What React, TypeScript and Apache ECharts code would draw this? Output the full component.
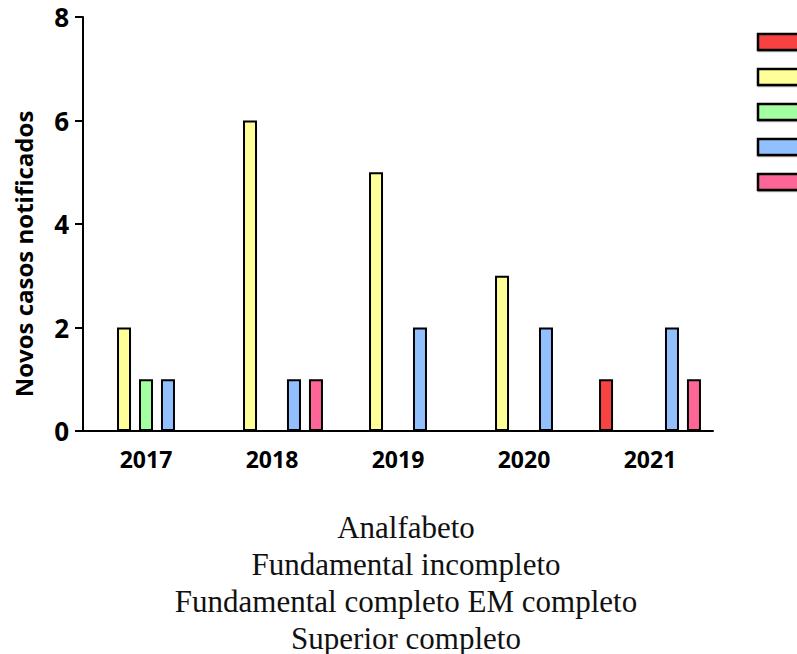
import React, { useEffect, useRef } from "react";
import * as echarts from "echarts";

const years = ["2017", "2018", "2019", "2020", "2021"];
const seriesNames = ["Analfabeto", "Fundamental incompleto", "Fundamental completo", "EM completo", "Superior completo"];
const analfabeto = [0, 0, 0, 0, 1];
const fundIncompleto = [2, 6, 5, 3, 0];
const fundCompleto = [1, 0, 0, 0, 0];
const emCompleto = [1, 1, 2, 2, 2];
const superiorCompleto = [0, 1, 0, 0, 1];
const colors = ["#F84343", "#FFFF99", "#A3FFA0", "#92C0FF", "#FF6698"];
const legendLines = ["Analfabeto", "Fundamental incompleto", "Fundamental completo EM completo", "Superior completo"];
const yAxisTitle = "Novos casos notificados";

export default function App() {
  const ref = useRef<HTMLDivElement>(null);
  useEffect(() => {
    if (!ref.current) return;
    const chart = echarts.init(ref.current, null, { renderer: "svg" });
    const all = [analfabeto, fundIncompleto, fundCompleto, emCompleto, superiorCompleto];
    const series = all.map((vals, i) => ({
      name: seriesNames[i],
      type: "bar",
      data: vals.map((v) => (v === 0 ? "-" : v)),
      barWidth: 14,
      barGap: "57%",
      barCategoryGap: "19%",
      itemStyle: { color: colors[i], borderColor: "#000", borderWidth: 2 },
    }));
    const graphic: any[] = [];
    colors.forEach((c, i) => {
      graphic.push({
        type: "rect",
        shape: { x: 758, y: 34 + 35 * i, width: 60, height: 16 },
        style: { fill: c, stroke: "#000", lineWidth: 2.5, shadowColor: "rgba(0,0,0,0.3)", shadowOffsetX: 1, shadowOffsetY: 1 },
      });
    });
    legendLines.forEach((t, i) => {
      graphic.push({
        type: "text",
        style: {
          text: t,
          x: 406,
          y: 527 + 37 * i,
          textAlign: "center",
          textVerticalAlign: "middle",
          font: "31px 'Liberation Serif'",
          fill: "#111",
        },
      });
    });
    graphic.push({
      type: "text",
      x: 23,
      y: 254,
      rotation: Math.PI / 2,
      style: {
        text: yAxisTitle,
        x: 0,
        y: 0,
        textAlign: "center",
        textVerticalAlign: "middle",
        font: "bold 24px 'Open Sans'",
        fill: "#000",
      },
    });
    chart.setOption({
      animation: false,
      grid: { left: 83, right: 84, top: 17, bottom: 223 },
      xAxis: {
        type: "category",
        data: years,
        axisLine: { lineStyle: { color: "#000", width: 2 } },
        axisTick: { alignWithLabel: true, length: 8, lineStyle: { color: "#000", width: 2 } },
        axisLabel: { color: "#000", fontFamily: "Open Sans", fontWeight: "bold", fontSize: 23, margin: 16 },
      },
      yAxis: {
        type: "value",
        min: 0,
        max: 8,
        interval: 2,
        axisLine: { show: true, lineStyle: { color: "#000", width: 2 } },
        axisTick: { show: true, length: 8, lineStyle: { color: "#000", width: 2 } },
        axisLabel: { color: "#000", fontFamily: "Open Sans", fontWeight: "bold", fontSize: 26, margin: 14 },
        splitLine: { show: false },
      },
      series,
      graphic,
    });
    return () => chart.dispose();
  }, []);
  return <div ref={ref} style={{ width: 797, height: 654, position: "absolute", left: 0, top: 0 }} />;
}
